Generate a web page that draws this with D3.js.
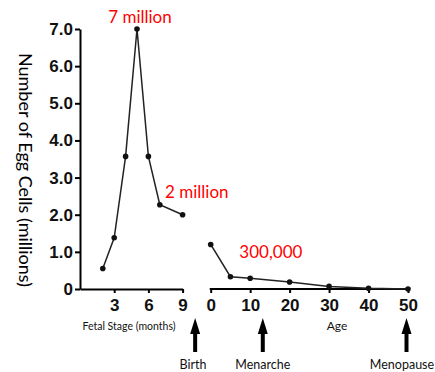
<!DOCTYPE html>
<html><head><meta charset="utf-8">
<script src="https://cdn.jsdelivr.net/npm/d3@7"></script>
<style>body{margin:0;background:#fff}svg{display:block}</style>
</head><body>
<svg id="c" width="435" height="372"></svg>
<script>
// Data
const fetalMonths = [2, 3, 4, 5, 6, 7, 9];
const fetalCounts = [0.55, 1.38, 3.57, 7.0, 3.57, 2.27, 2.0];
const ages = [0, 5, 10, 20, 30, 40, 50];
const ageCounts = [1.2, 0.33, 0.29, 0.19, 0.07, 0.02, 0.0];
const yTicks = [0, 1, 2, 3, 4, 5, 6, 7];
const yTickLabels = ["0", "1.0", "2.0", "3.0", "4.0", "5.0", "6.0", "7.0"];
const fetalTicks = [3, 6, 9];
const ageTicks = [0, 10, 20, 30, 40, 50];
const annotations = [
  {text: "7 million", series: "fetal", x: 5, y: 7.0},
  {text: "2 million", series: "fetal", x: 9, y: 2.0},
  {text: "300,000", series: "age", x: 10, y: 0.29}
];
const events = [
  {label: "Birth", series: "birth"},
  {label: "Menarche", series: "age", x: 13.2},
  {label: "Menopause", series: "age", x: 50}
];

const svg = d3.select("#c");
const y = d3.scaleLinear().domain([0, 7]).range([289, 29]);
const xF = d3.scaleLinear().domain([0, 9]).range([80, 182.6]);
const xA = d3.scaleLinear().domain([0, 50]).range([210.7, 408]);

const tickFont = "'Liberation Sans', Arial, sans-serif";
const lblFont = "Lato, 'Open Sans', sans-serif";

// Y axis
const gy = svg.append("g").attr("transform", "translate(80,0)")
  .call(d3.axisLeft(y).tickValues(yTicks).tickFormat((d, i) => yTickLabels[i]).tickSize(5).tickPadding(2).tickSizeOuter(0));
// Fetal x axis
const gf = svg.append("g").attr("transform", "translate(0,289)")
  .call(d3.axisBottom(xF).tickValues(fetalTicks).tickSize(4).tickPadding(6).tickSizeOuter(0));
// Age x axis
const ga = svg.append("g").attr("transform", "translate(0,289)")
  .call(d3.axisBottom(xA).tickValues(ageTicks).tickSize(4).tickPadding(6).tickSizeOuter(0));
ga.select(".domain").attr("d", `M${xA(0)-2},289V289H${xA(50)}`).attr("transform","translate(0,-289)");

[gy, gf, ga].forEach(g => {
  g.selectAll(".domain").attr("stroke", "#000").attr("stroke-width", 2);
  g.selectAll(".tick line").attr("stroke", "#000").attr("stroke-width", 2);
  g.selectAll(".tick text").attr("font-family", tickFont).attr("font-weight", "bold")
    .attr("font-size", 17).attr("fill", "#111");
});
ga.select(".domain").attr("d", `M${xA(0)-1},0H${xA(50)}`).attr("transform", null);

// Lines
const lineF = d3.line().x((d, i) => xF(fetalMonths[i])).y(d => y(d));
const lineA = d3.line().x((d, i) => xA(ages[i])).y(d => y(d));
svg.append("path").attr("d", lineF(fetalCounts)).attr("fill", "none").attr("stroke", "#222").attr("stroke-width", 1.5);
svg.append("path").attr("d", lineA(ageCounts)).attr("fill", "none").attr("stroke", "#222").attr("stroke-width", 1.5);
svg.selectAll(".df").data(fetalCounts).join("circle")
  .attr("cx", (d, i) => xF(fetalMonths[i])).attr("cy", d => y(d)).attr("r", 2.8).attr("fill", "#111");
svg.selectAll(".da").data(ageCounts).join("circle")
  .attr("cx", (d, i) => xA(ages[i])).attr("cy", d => y(d)).attr("r", 2.8).attr("fill", "#111");

// Annotations (red)
const annPos = [
  {dx: 3, dy: -6},
  {dx: 8, dy: -17},
  {dx: 31, dy: -20}
];
annotations.forEach((a, i) => {
  const sx = a.series === "fetal" ? xF : xA;
  const t = svg.append("text").text(a.text)
    .attr("font-family", lblFont).attr("font-size", 17).attr("fill", "#ff0000")
    .attr("y", y(a.y) + annPos[i].dy);
  if (i === 0) t.attr("x", sx(a.x) + annPos[i].dx).attr("text-anchor", "middle");
  else t.attr("x", sx(a.x) - (i === 1 ? 17.6 : 10.8)).attr("text-anchor", "start");
});

// Axis titles
svg.append("text").text("Number of Egg Cells (millions)")
  .attr("font-family", lblFont).attr("font-size", 18).attr("fill", "#000")
  .attr("text-anchor", "middle").attr("transform", "translate(19,170) rotate(90)");
svg.append("text").text("Fetal Stage (months)")
  .attr("font-family", lblFont).attr("font-size", 10.5).attr("fill", "#111")
  .attr("text-anchor", "middle").attr("x", 129).attr("y", 330);
svg.append("text").text("Age")
  .attr("font-family", lblFont).attr("font-size", 12).attr("fill", "#111")
  .attr("text-anchor", "middle").attr("x", 337).attr("y", 330);

// Event arrows
events.forEach(e => {
  const cx = e.series === "birth" ? (xF(9) + xA(0)) / 2 - 1.5 : xA(e.x) - (e.x === 50 ? 1.5 : 0);
  const top = 318, headB = 334, bot = 352, hw = 5, sw = 2;
  svg.append("path")
    .attr("d", `M${cx},${top}L${cx+hw},${headB}H${cx+sw}V${bot}H${cx-sw}V${headB}H${cx-hw}Z`)
    .attr("fill", "#000");
  svg.append("text").text(e.label)
    .attr("font-family", lblFont).attr("font-size", 12.5).attr("fill", "#111")
    .attr("text-anchor", "middle").attr("x", e.label === "Menopause" ? 402 : (e.label === "Birth" ? 193 : cx)).attr("y", 369);
});
</script>
</body></html>
